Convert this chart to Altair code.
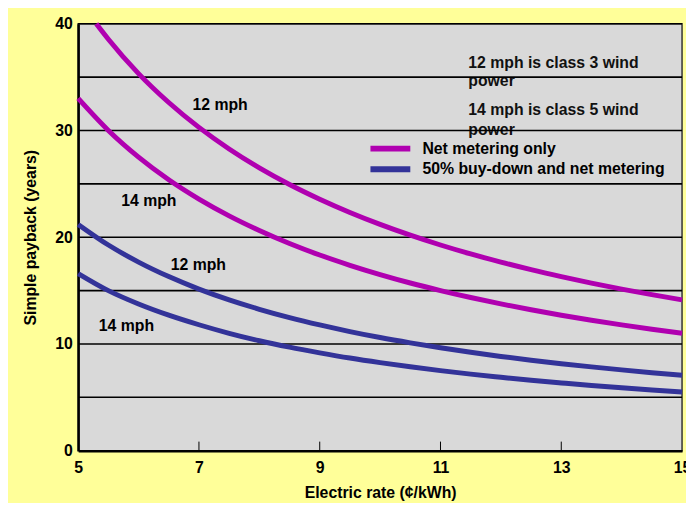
import altair as alt
import pandas as pd

# ---------------- data ----------------
rates_net12 = [5.3, 5.5, 6.0, 6.5, 7.0, 7.5, 8.0, 8.5, 9.0, 9.5, 10.0, 10.5,
               11.0, 11.5, 12.0, 12.5, 13.0, 13.5, 14.0, 14.5, 15.0]
payback_net12 = [40.0, 38.55, 35.33, 32.62, 30.29, 28.27, 26.5, 24.94, 23.56, 22.32, 21.2,
                 20.19, 19.27, 18.43, 17.67, 16.96, 16.31, 15.7, 15.14, 14.62, 14.13]

rates = [5.0, 5.5, 6.0, 6.5, 7.0, 7.5, 8.0, 8.5, 9.0, 9.5, 10.0, 10.5,
         11.0, 11.5, 12.0, 12.5, 13.0, 13.5, 14.0, 14.5, 15.0]
payback_net14 = [33.0, 30.0, 27.5, 25.38, 23.57, 22.0, 20.63, 19.41, 18.33, 17.37, 16.5,
                 15.71, 15.0, 14.35, 13.75, 13.2, 12.69, 12.22, 11.79, 11.38, 11.0]
payback_buy12 = [21.2, 19.27, 17.67, 16.31, 15.14, 14.13, 13.25, 12.47, 11.78, 11.16, 10.6,
                 10.1, 9.64, 9.22, 8.83, 8.48, 8.15, 7.85, 7.57, 7.31, 7.07]
payback_buy14 = [16.6, 15.0, 13.75, 12.7, 11.8, 11.0, 10.3, 9.7, 9.17, 8.68, 8.25,
                 7.86, 7.5, 7.17, 6.88, 6.6, 6.35, 6.11, 5.89, 5.69, 5.5]

series_names = ["Net metering only", "50% buy-down and net metering"]
series_colors = ["#B000B0", "#333399"]

x_tick_values = [5, 7, 9, 11, 13, 15]
x_inner_ticks = [7, 9, 11, 13]
y_label_values = [0, 10, 20, 30, 40]
y_grid_values = [5, 10, 15, 20, 25, 30, 35, 40]

curve_label_text = ["12 mph", "14 mph", "12 mph", "14 mph"]
curve_label_x = [7.35, 6.17, 6.99, 5.8]
curve_label_y = [32.4, 23.4, 17.4, 11.7]

note_text = ["12 mph is class 3 wind", "power", "14 mph is class 5 wind", "power"]
note_x = [11.46, 11.46, 11.46, 11.46]
note_y = [36.35, 34.6, 31.9, 30.05]

legend_x0 = [9.84, 9.84]
legend_x1 = [10.5, 10.5]
legend_text_x = [10.7, 10.7]
legend_y = [28.3, 26.36]

# ---------------- tables ----------------
rows = []
for r, p in zip(rates_net12, payback_net12):
    rows.append({"rate": r, "payback": p, "series": series_names[0], "speed": "12"})
for r, p in zip(rates, payback_net14):
    rows.append({"rate": r, "payback": p, "series": series_names[0], "speed": "14"})
for r, p in zip(rates, payback_buy12):
    rows.append({"rate": r, "payback": p, "series": series_names[1], "speed": "12"})
for r, p in zip(rates, payback_buy14):
    rows.append({"rate": r, "payback": p, "series": series_names[1], "speed": "14"})
df = pd.DataFrame(rows)

ticks_df = pd.DataFrame({"rate": x_inner_ticks, "y0": [0] * len(x_inner_ticks),
                         "y1": [0.85] * len(x_inner_ticks)})
grid_df = pd.DataFrame({"y": y_grid_values})
labels_df = pd.DataFrame({"t": curve_label_text, "x": curve_label_x, "y": curve_label_y})
notes_df = pd.DataFrame({"t": note_text, "x": note_x, "y": note_y})
legend_df = pd.DataFrame({"series": series_names, "x0": legend_x0, "x1": legend_x1,
                          "tx": legend_text_x, "y": legend_y})

FONT = "Liberation Sans"

x_scale = alt.Scale(domain=[5, 15], nice=False, zero=False)
y_scale = alt.Scale(domain=[0, 40], nice=False)
color_scale = alt.Scale(domain=series_names, range=series_colors)

notes = alt.Chart(notes_df).mark_text(
    font=FONT, fontSize=16, fontWeight="bold", color="#111111", align="left"
).encode(
    x=alt.X("x:Q", scale=x_scale,
            axis=alt.Axis(values=x_tick_values, title="Electric rate (¢/kWh)", grid=False,
                          ticks=False, domainColor="black", domainWidth=2.5, format="d",
                          labelFlush=False, labelPadding=9, titlePadding=9)),
    y=alt.Y("y:Q", scale=y_scale,
            axis=alt.Axis(values=y_label_values, title="Simple payback (years)",
                          grid=False, ticks=False, domainColor="black", domainWidth=2.5,
                          labelPadding=6, titlePadding=16)),
    text="t:N",
)

grid = alt.Chart(grid_df).mark_rule(color="black", strokeWidth=1.6).encode(
    y=alt.Y("y:Q", scale=y_scale),
)

lines = alt.Chart(df).mark_line(strokeWidth=5, interpolate="monotone").encode(
    x=alt.X("rate:Q", scale=x_scale),
    y=alt.Y("payback:Q", scale=y_scale),
    color=alt.Color("series:N", scale=color_scale, legend=None),
    detail="speed:N",
)

inner_ticks = alt.Chart(ticks_df).mark_rule(color="black", strokeWidth=1).encode(
    x=alt.X("rate:Q", scale=x_scale),
    y=alt.Y("y0:Q", scale=y_scale),
    y2="y1:Q",
)

curve_labels = alt.Chart(labels_df).mark_text(
    font=FONT, fontSize=16, fontWeight="bold", color="black"
).encode(x=alt.X("x:Q", scale=x_scale), y=alt.Y("y:Q", scale=y_scale), text="t:N")

legend_lines = alt.Chart(legend_df).mark_rule(strokeWidth=6).encode(
    x=alt.X("x0:Q", scale=x_scale),
    x2="x1:Q",
    y=alt.Y("y:Q", scale=y_scale),
    color=alt.Color("series:N", scale=color_scale, legend=None),
)

legend_text = alt.Chart(legend_df).mark_text(
    font=FONT, fontSize=16, fontWeight="bold", color="black", align="left"
).encode(x=alt.X("tx:Q", scale=x_scale), y=alt.Y("y:Q", scale=y_scale), text="series:N")

chart = alt.layer(notes, grid, lines, inner_ticks, curve_labels, legend_lines,
                  legend_text).properties(
    width=611, height=432,
    background="#FFFF99",
    padding={"left": 71, "top": 13, "right": 4, "bottom": 50},
    autosize=alt.AutoSizeParams(type="none"),
).configure_view(
    fill="#D9D9D9", stroke="#333333", strokeWidth=1.5
).configure_axis(
    labelFont=FONT, labelFontSize=16, labelFontWeight="bold", labelColor="black",
    titleFont=FONT, titleFontSize=16, titleFontWeight="bold", titleColor="black",
)

chart.save("out.html", embed_options={"renderer": "svg", "actions": False})
